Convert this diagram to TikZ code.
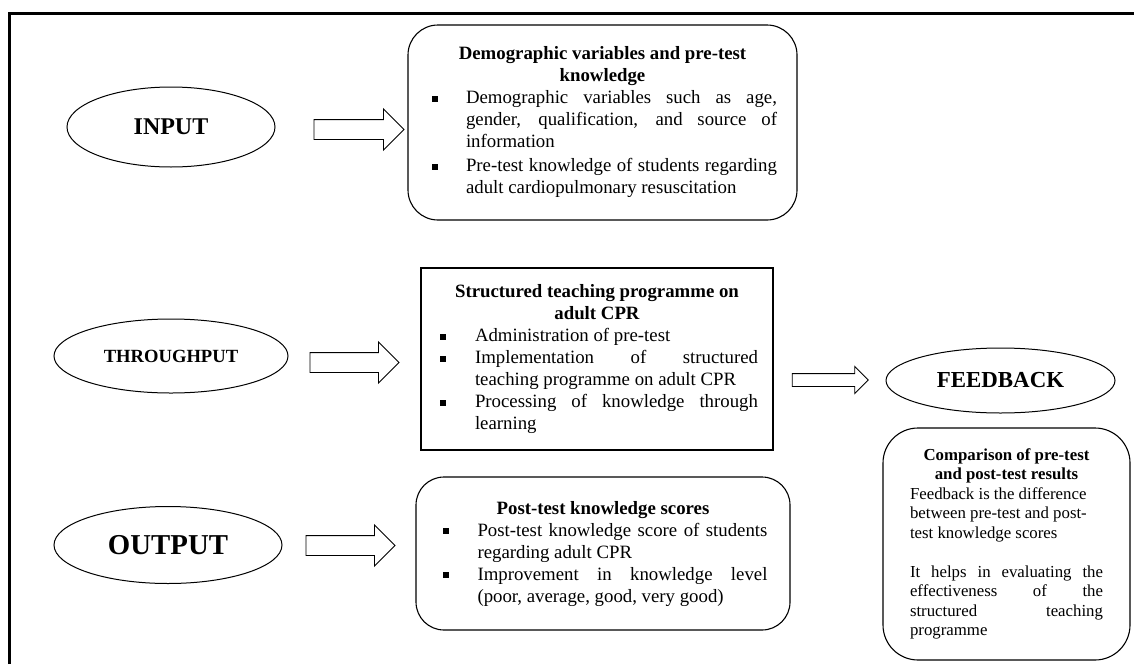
\documentclass[tikz,border=0pt]{standalone}
\usepackage{fontspec}
\setmainfont{Liberation Serif}
\usetikzlibrary{shapes.geometric,shapes.arrows}
\newcommand{\bitem}[3]{\par\noindent\hangindent=#1\hangafter=1\makebox[#1][l]{\hspace{#2}\rule[1.8pt]{6pt}{6pt}}\ignorespaces#3\par}
\newcommand{\bodyfnt}{\fontsize{18.8pt}{22pt}\selectfont}
\newcommand{\fbfnt}{\fontsize{16.8pt}{19.5pt}\selectfont}
\tikzset{
  lbl/.style={draw, ellipse, line width=1pt, inner sep=0pt, font=\bfseries},
  rbox/.style={draw, line width=1.1pt, inner sep=0pt, align=justify},
  barrow/.style={draw, single arrow, line width=0.9pt, fill=white, inner xsep=0pt,
    single arrow head extend=10.5pt, inner ysep=9.5pt},
}
\begin{document}
\begin{tikzpicture}[x=1pt,y=-1pt]
\useasboundingbox (0,0) rectangle (1134,664);
\tolerance=10000 \hyphenpenalty=10000 \exhyphenpenalty=10000
% frame
\draw[line width=2.5pt] (9.5,664) -- (9.5,13.5) -- (1134,13.5);

% ellipses
\node[lbl, minimum width=208pt, minimum height=80pt, font=\fontsize{24pt}{28pt}\selectfont\bfseries] (input) at (171,127) {INPUT};
\node[lbl, minimum width=234pt, minimum height=74pt, font=\fontsize{18.6pt}{22pt}\selectfont\bfseries] (through) at (171,356) {THROUGHPUT};
\node[lbl, minimum width=228pt, minimum height=77pt, font=\fontsize{28.8pt}{32pt}\selectfont\bfseries] (output) at (168,545) {OUTPUT};
\node[lbl, minimum width=229pt, minimum height=65pt, font=\fontsize{22.9pt}{26pt}\selectfont\bfseries] (feedback) at (1000.5,380.5) {FEEDBACK};

% boxes
\node[rbox, rounded corners=30pt, minimum width=389pt, minimum height=195pt, text width=349pt, font=\bodyfnt] (inbox) at (602.5,122.5) {%
{\centering\bfseries Demographic variables and pre-test\\knowledge\par}
\bitem{38pt}{4pt}{Demographic variables such as age,\linebreak gender, qualification, and source of\linebreak information}
\vspace{2pt}
\bitem{38pt}{4pt}{Pre-test knowledge of students regarding\linebreak adult cardiopulmonary resuscitation}};

\node[rbox, minimum width=352pt, minimum height=182pt, text width=322pt, font=\bodyfnt] (stp) at (597,359) {%
{\centering\bfseries Structured teaching programme on\\adult CPR\par}
\bitem{39pt}{4pt}{Administration of pre-test}
\bitem{39pt}{4pt}{Implementation of structured\linebreak teaching programme on adult CPR}
\bitem{39pt}{4pt}{Processing of knowledge through\linebreak learning}};

\node[rbox, rounded corners=28pt, minimum width=374pt, minimum height=153pt, text width=329pt, font=\bodyfnt] (outbox) at (603,553.5) {%
{\centering\bfseries Post-test knowledge scores\par}
\bitem{39pt}{4pt}{Post-test knowledge score of students\linebreak regarding adult CPR}
\bitem{39pt}{4pt}{Improvement in knowledge level\linebreak (poor, average, good, very good)}
\vspace{7pt}};

\node[rbox, rounded corners=35pt, minimum width=247pt, minimum height=232pt, text width=193pt, font=\fbfnt] (fbbox) at (1006.5,544) {%
{\centering\bfseries Comparison of pre-test\\and post-test results\par}
{\raggedright Feedback is the difference\\between pre-test and post-\\test knowledge scores\par}
\vspace{19.5pt}
It helps in evaluating the\linebreak effectiveness of the\linebreak structured teaching\linebreak programme\par
\vspace{-6pt}};

% block arrows
\node[barrow, minimum height=90pt] (a1) at (354,129.5) {};
\node[barrow, minimum height=89pt] (a2) at (349.5,362.5) {};
\node[barrow, minimum height=89pt] (a3) at (345.5,545.5) {};
\node[barrow, minimum height=76pt, single arrow head extend=7pt, inner ysep=6pt] (a4) at (827,380) {};
\end{tikzpicture}
\end{document}
